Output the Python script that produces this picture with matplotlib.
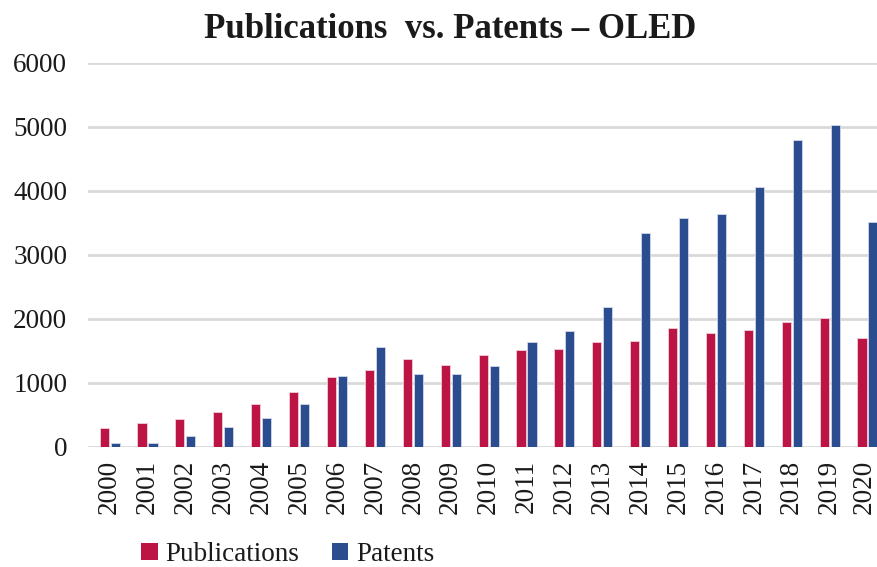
import matplotlib
matplotlib.use("Agg")
import matplotlib.pyplot as plt
import matplotlib.transforms as mtransforms
from matplotlib.patches import Patch
import numpy as np

years = ["2000", "2001", "2002", "2003", "2004", "2005", "2006", "2007", "2008", "2009",
         "2010", "2011", "2012", "2013", "2014", "2015", "2016", "2017", "2018", "2019", "2020"]
publications = [300, 380, 440, 540, 670, 860, 1090, 1200, 1380, 1280, 1440, 1510, 1535,
                1635, 1650, 1860, 1775, 1835, 1950, 2015, 1710]
patents = [55, 60, 175, 310, 455, 670, 1105, 1570, 1145, 1145, 1270, 1640, 1820,
           2190, 3340, 3580, 3640, 4065, 4790, 5035, 3510]
yticks = [0, 1000, 2000, 3000, 4000, 5000, 6000]

PUB_C = "#BC1445"
PAT_C = "#2B4D8F"
TXT = "#1a1a1a"
plt.rcParams['font.family'] = ['Liberation Serif', 'DejaVu Serif']

fig = plt.figure(figsize=(8.77, 5.67), dpi=100)
ax = fig.add_axes([88/877, 120/567, 1 - 88/877, (447-63)/567])

x = np.arange(len(years))
w = 0.24
ax.bar(x - 0.145, publications, w, color=PUB_C, edgecolor="#f0d0d8", linewidth=0.6, zorder=3)
ax.bar(x + 0.145, patents, w, color=PAT_C, edgecolor="#d0d8ea", linewidth=0.6, zorder=3)

ax.set_xlim(-0.57, 20.25)
ax.set_ylim(0, 6000)
ax.set_yticks(yticks)
ax.set_yticklabels([str(v) for v in yticks])
ax.set_xticks(x)
ax.set_xticklabels(years, rotation=90)
ax.yaxis.grid(True, color="#D9D9D9", linewidth=2, zorder=0)
ax.set_axisbelow(True)
for s in ax.spines.values():
    s.set_visible(False)
ax.tick_params(axis="both", length=0, labelsize=19.5, colors=TXT)
ax.tick_params(axis="y", pad=15)
ax.tick_params(axis="x", pad=9)

# nudge the last year label so it stays inside the image
last = ax.get_xticklabels()[-1]
last.set_transform(last.get_transform() + mtransforms.ScaledTranslation(-3/100, 0, fig.dpi_scale_trans))

fig.text(450/877, 1 - 29/567, "Publications  vs. Patents – OLED", ha="center", va="center",
         fontsize=25, fontweight="bold", color=TXT)

handles = [Patch(facecolor=PUB_C, edgecolor="none"), Patch(facecolor=PAT_C, edgecolor="none")]
fig.legend(handles, ["Publications", "Patents"], loc="center", bbox_to_anchor=(288/877, 1 - 554.5/567),
           ncol=2, frameon=False, fontsize=19.5, handlelength=0.6, handleheight=0.6,
           handletextpad=0.3, columnspacing=1.2, labelcolor=TXT, borderpad=0.1)

fig.savefig("out.png", dpi=100)
